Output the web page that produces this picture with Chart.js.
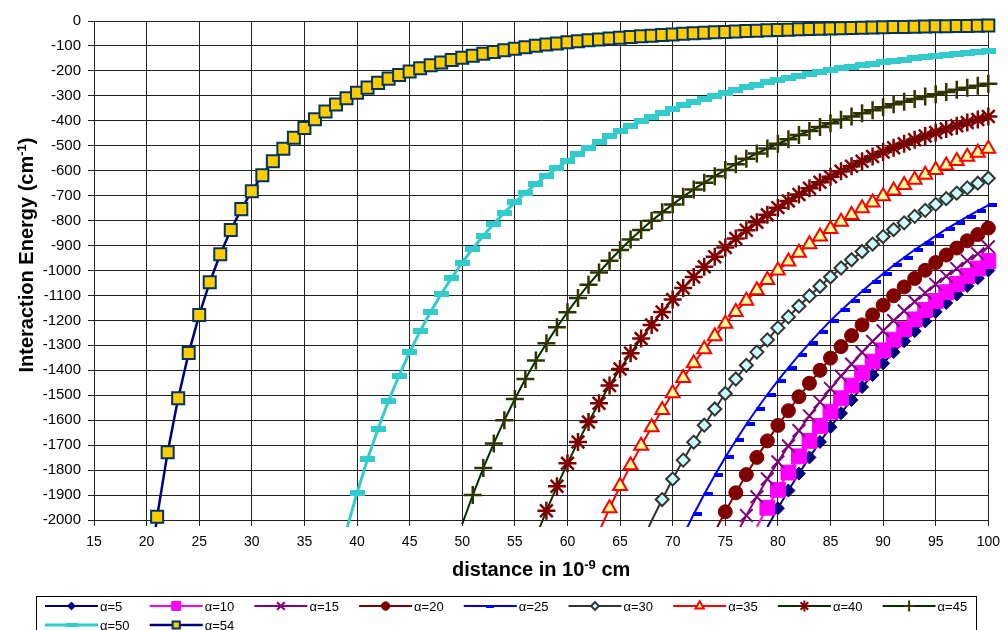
<!DOCTYPE html>
<html>
<head>
<meta charset="utf-8">
<script src="https://cdn.jsdelivr.net/npm/chart.js@4.4.0/dist/chart.umd.min.js"></script>
<style>
  html, body { margin: 0; padding: 0; background: #fff; }
</style>
</head>
<body>
<canvas id="energy" width="1008" height="630"></canvas>
<script>
const FONT = '"Liberation Sans", Arial, sans-serif';

// series names and the first distance (10^-9 cm) each series starts at, one point per unit after that
const seriesNames = ['α=5', 'α=10', 'α=15', 'α=20', 'α=25', 'α=30', 'α=35', 'α=40', 'α=45', 'α=50', 'α=54'];
const startDistance = [79, 78, 76, 74, 71, 67, 63, 57, 50, 39, 20];

// interaction energy in cm^-1
const energyA5 = [-2028, -1953, -1882, -1814, -1749, -1687, -1628, -1572, -1519, -1467, -1419, -1372,
  -1327, -1284, -1243, -1204, -1166, -1130, -1096, -1062, -1031, -1000];
const energyA10 = [-2027, -1951, -1879, -1810, -1745, -1683, -1623, -1566, -1512, -1461, -1411, -1365,
  -1320, -1277, -1235, -1196, -1158, -1122, -1087, -1054, -1022, -992, -962];
const energyA15 = [-2062, -1982, -1907, -1835, -1767, -1703, -1642, -1583, -1527, -1473, -1423, -1375,
  -1328, -1284, -1242, -1201, -1162, -1125, -1090, -1055, -1023, -992, -961, -933, -905];
const energyA20 = [-2048, -1967, -1891, -1818, -1749, -1683, -1621, -1562, -1506, -1452, -1400, -1351,
  -1305, -1261, -1218, -1178, -1139, -1101, -1066, -1032, -999, -968, -938, -910, -881, -856, -830];
const energyA25 = [-2062, -1977, -1897, -1821, -1749, -1681, -1616, -1555, -1497, -1441, -1389, -1339,
  -1291, -1245, -1201, -1160, -1121, -1083, -1047, -1013, -979, -948, -917, -889, -861, -834, -809,
  -784, -761, -738];
const energyA30 = [-2095, -2003, -1918, -1836, -1760, -1688, -1620, -1555, -1493, -1435, -1380, -1327,
  -1278, -1230, -1186, -1143, -1102, -1063, -1026, -990, -957, -924, -894, -864, -836, -809, -783,
  -759, -735, -712, -690, -669, -650, -630];
const energyA35 = [-2047, -1953, -1864, -1781, -1702, -1628, -1559, -1492, -1431, -1372, -1316, -1264,
  -1213, -1166, -1121, -1079, -1038, -1000, -964, -929, -895, -864, -834, -805, -778, -751, -727,
  -702, -679, -657, -636, -616, -597, -579, -561, -544, -528, -512];
const energyA40 = [-2068, -1963, -1865, -1773, -1687, -1607, -1532, -1461, -1395, -1332, -1273, -1218,
  -1166, -1116, -1070, -1026, -985, -945, -908, -872, -839, -807, -777, -748, -721, -695, -670, -646,
  -624, -602, -582, -562, -543, -525, -508, -492, -476, -461, -447, -433, -420, -407, -395, -383];
const energyA45 = [-2016, -1900, -1792, -1693, -1600, -1515, -1435, -1361, -1292, -1227, -1167, -1110,
  -1057, -1008, -961, -918, -876, -838, -801, -767, -735, -704, -675, -648, -622, -597, -574, -552,
  -531, -511, -492, -474, -457, -441, -425, -410, -396, -383, -370, -358, -346, -334, -324, -313,
  -303, -294, -285, -276, -268, -260, -252];
const energyA50 = [-2040, -1891, -1756, -1634, -1522, -1421, -1327, -1243, -1165, -1094, -1029, -968,
  -912, -861, -813, -768, -727, -689, -653, -620, -589, -560, -533, -508, -484, -462, -441, -421,
  -402, -385, -368, -353, -338, -324, -311, -299, -287, -276, -265, -255, -245, -236, -228, -219,
  -212, -204, -197, -190, -184, -178, -172, -166, -161, -155, -150, -146, -141, -137, -133, -129,
  -125, -121];
const energyA54 = [-2300, -1987, -1728, -1512, -1331, -1178, -1047, -935, -838, -754, -682, -618, -562,
  -512, -468, -429, -394, -363, -335, -310, -288, -267, -248, -231, -216, -202, -189, -177, -166,
  -156, -147, -139, -131, -124, -117, -111, -105, -99, -94, -90, -85, -81, -77, -74, -70, -67, -64,
  -61, -59, -56, -54, -51, -49, -47, -45, -44, -42, -40, -39, -37, -36, -35, -33, -32, -31, -30,
  -29, -28, -27, -26, -25, -24, -24, -23, -22, -21, -21, -20, -20, -19, -18];

const energySeries = [energyA5, energyA10, energyA15, energyA20, energyA25, energyA30,
  energyA35, energyA40, energyA45, energyA50, energyA54];

const Y_MIN = -2000;

// the "dash" marker: a filled bar, optionally pushed to the right of its point
function dashMark(w, h, color, shift) {
  const c = document.createElement('canvas');
  c.width = w + 2 * shift;
  c.height = h;
  const g = c.getContext('2d');
  g.fillStyle = color;
  g.fillRect(2 * shift, 0, w, h);
  return c;
}

const looks = [
  { line: '#000080', fill: '#000080', edge: '#000080', shape: 'rectRot', r: 6.5, bw: 1 },
  { line: '#FF00FF', fill: '#FF00FF', edge: '#FF00FF', shape: 'rect', r: 10.5, bw: 1 },
  { line: '#800080', fill: '#800080', edge: '#800080', shape: 'crossRot', r: 9, bw: 2 },
  { line: '#800000', fill: '#800000', edge: '#800000', shape: 'circle', r: 7, bw: 1 },
  { line: '#0000FF', fill: '#0000FF', edge: '#0000FF', shape: dashMark(9, 4, '#0000FF', 4), r: 5, bw: 1,
    key: dashMark(8, 3, '#0000FF', 0) },
  { line: '#333333', fill: '#CCFFFF', edge: '#333333', shape: 'rectRot', r: 6.5, bw: 2 },
  { line: '#FF0000', fill: '#FFFF99', edge: '#FF0000', shape: 'triangle', r: 8, bw: 2 },
  { line: '#003300', fill: '#800000', edge: '#800000', shape: 'star', r: 9, bw: 2.5 },
  { line: '#003300', fill: '#333300', edge: '#333300', shape: 'cross', r: 9, bw: 2.5 },
  { line: '#33CCCC', fill: '#33CCCC', edge: '#33CCCC', shape: dashMark(15, 6, '#33CCCC', 0), r: 8, bw: 1,
    width: 3, key: dashMark(12, 4, '#33CCCC', 0) },
  { line: '#000080', fill: '#FFCC00', edge: '#003366', shape: 'rect', r: 8.5, bw: 2, width: 2.5 }
];

const datasets = energySeries.map((values, i) => {
  const s = looks[i];
  return {
    label: seriesNames[i],
    data: values.map((v, k) => ({ x: startDistance[i] + k, y: v })),
    borderColor: s.line,
    borderWidth: s.width || 2,
    pointStyle: s.shape,
    // no marker for points below the axis floor, only the line heading there
    pointRadius: c => (c.raw && c.raw.y < Y_MIN ? 0 : s.r),
    pointBackgroundColor: s.fill,
    pointBorderColor: s.edge,
    pointBorderWidth: s.bw,
    tension: 0,
    order: energySeries.length - i,
    // lines run a few pixels past the -2000 line before they are cut
    clip: { left: false, top: false, right: false, bottom: 7 }
  };
});

// text with a raised part, centred on (cx, baseline) and optionally turned
function raisedText(ctx, parts, cx, base, angle) {
  ctx.save();
  ctx.translate(cx, base);
  ctx.rotate(angle);
  ctx.fillStyle = '#000';
  ctx.textBaseline = 'alphabetic';
  ctx.textAlign = 'left';
  let total = 0;
  parts.forEach(p => {
    ctx.font = p.up ? 'bold 13px ' + FONT : 'bold 20px ' + FONT;
    p.w = ctx.measureText(p.text).width;
    total += p.w;
  });
  let x = -total / 2;
  parts.forEach(p => {
    ctx.font = p.up ? 'bold 13px ' + FONT : 'bold 20px ' + FONT;
    ctx.fillText(p.text, x, p.up ? -7 : 0);
    x += p.w;
  });
  ctx.restore();
}

const decorations = {
  id: 'decorations',
  afterDraw(chart) {
    const ctx = chart.ctx;
    const area = chart.chartArea;

    raisedText(ctx, [{ text: 'Interaction Energy (cm' }, { text: '-1', up: true }, { text: ')' }],
      33, 255, -Math.PI / 2);
    raisedText(ctx, [{ text: 'distance in 10' }, { text: '-9', up: true }, { text: ' cm' }],
      (area.left + area.right) / 2, 576, 0);

    // legend box along the bottom
    ctx.save();
    ctx.fillStyle = '#fff';
    ctx.strokeStyle = '#000';
    ctx.lineWidth = 1;
    ctx.fillRect(36.5, 596.5, 940, 40);
    ctx.strokeRect(36.5, 596.5, 940, 40);
    ctx.font = '13px ' + FONT;
    ctx.textBaseline = 'middle';
    seriesNames.forEach((name, i) => {
      const s = looks[i];
      const row = i < 9 ? 0 : 1;
      const col = i < 9 ? i : i - 9;
      const x0 = 45 + col * 104.7;
      const y0 = row === 0 ? 606 : 625;
      ctx.strokeStyle = s.line;
      ctx.lineWidth = s.width || 2;
      ctx.beginPath();
      ctx.moveTo(x0, y0);
      ctx.lineTo(x0 + 53, y0);
      ctx.stroke();
      ctx.fillStyle = s.fill;
      ctx.strokeStyle = s.edge;
      ctx.lineWidth = Math.min(s.bw, 2);
      Chart.helpers.drawPoint(ctx, {
        pointStyle: s.key || s.shape,
        radius: s.r * 0.6,
        rotation: 0,
        borderWidth: ctx.lineWidth
      }, x0 + 26.5, y0);
      ctx.fillStyle = '#000';
      ctx.fillText(name, x0 + 55, y0 + 1);
    });
    ctx.restore();
  }
};

const gridColor = '#222';

new Chart(document.getElementById('energy'), {
  type: 'line',
  data: { datasets },
  options: {
    responsive: false,
    animation: false,
    events: [],
    layout: { padding: { left: 0, top: 21, right: 18, bottom: 0 } },
    plugins: {
      legend: { display: false },
      tooltip: { enabled: false }
    },
    scales: {
      x: {
        type: 'linear',
        min: 15,
        max: 100,
        ticks: { stepSize: 5, color: '#000', padding: 8, font: { family: FONT, size: 14 }, maxRotation: 0 },
        grid: { color: gridColor, tickColor: gridColor, tickLength: 6 },
        border: { color: gridColor },
        afterFit(scale) { scale.height = 110; }
      },
      y: {
        min: Y_MIN,
        max: 0,
        ticks: {
          stepSize: 100,
          color: '#000',
          padding: 7,
          font: { family: FONT, size: 15 },
          callback: v => String(v)
        },
        grid: { color: gridColor, tickColor: gridColor, tickLength: 6 },
        border: { color: gridColor },
        afterFit(scale) { scale.width = 94; }
      }
    }
  },
  plugins: [decorations]
});
</script>
</body>
</html>
